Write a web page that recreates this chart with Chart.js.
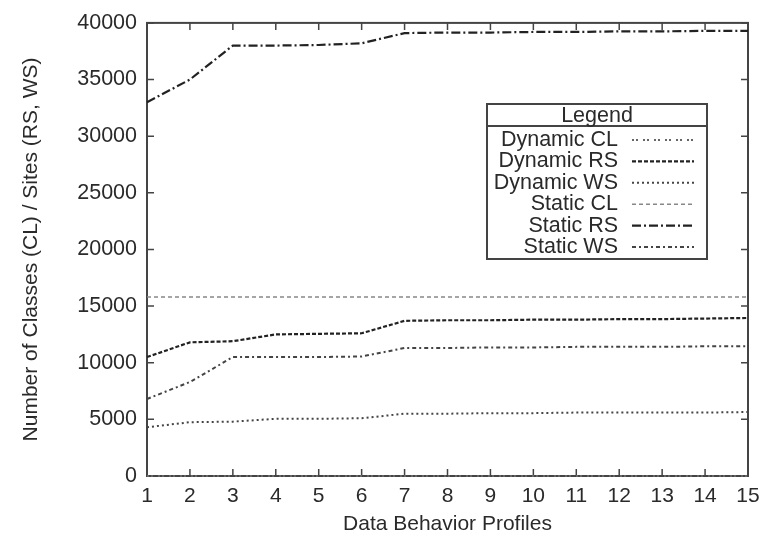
<!DOCTYPE html>
<html>
<head>
<meta charset="utf-8">
<script src="https://cdn.jsdelivr.net/npm/chart.js@4/dist/chart.umd.min.js"></script>
<style>
  html, body { margin: 0; padding: 0; background: #fff; }
  #wrap { width: 773px; height: 540px; }
</style>
</head>
<body>
<div id="wrap"><canvas id="chart" width="773" height="540"></canvas></div>
<script>
const profiles = [1, 2, 3, 4, 5, 6, 7, 8, 9, 10, 11, 12, 13, 14, 15];

const dynamicCL = [0, 0, 0, 0, 0, 0, 0, 0, 0, 0, 0, 0, 0, 0, 0];
const dynamicRS = [10500, 11800, 11900, 12500, 12550, 12600, 13700, 13750, 13750, 13800, 13800, 13850, 13850, 13900, 13950];
const dynamicWS = [4300, 4750, 4800, 5050, 5050, 5100, 5500, 5500, 5550, 5550, 5600, 5600, 5600, 5600, 5650];
const staticCL = [15800, 15800, 15800, 15800, 15800, 15800, 15800, 15800, 15800, 15800, 15800, 15800, 15800, 15800, 15800];
const staticRS = [33000, 35000, 38000, 38000, 38050, 38200, 39100, 39150, 39150, 39200, 39200, 39250, 39250, 39300, 39300];
const staticWS = [6800, 8300, 10500, 10500, 10500, 10550, 11300, 11300, 11350, 11350, 11400, 11400, 11400, 11450, 11450];

const seriesNames = ['Dynamic CL', 'Dynamic RS', 'Dynamic WS', 'Static CL', 'Static RS', 'Static WS'];
const yTicks = [0, 5000, 10000, 15000, 20000, 25000, 30000, 35000, 40000];

const FONT = '"Liberation Sans", Arial, Helvetica, sans-serif';
const TEXT = '#2a2a2a';

function line(label, values, color, dash, width) {
  return {
    label,
    data: profiles.map((p, i) => ({ x: p, y: values[i] })),
    borderColor: color,
    borderDash: dash,
    borderWidth: width,
    pointRadius: 0,
    tension: 0,
    fill: false,
    clip: false
  };
}

// gnuplot-like frame with inward ticks on all four sides
const framePlugin = {
  id: 'frame',
  beforeDatasetsDraw(chart) {
    const { ctx, chartArea: a, scales } = chart;
    ctx.save();
    ctx.strokeStyle = '#444';
    ctx.lineWidth = 2;
    ctx.setLineDash([]);
    ctx.strokeRect(a.left, a.top, a.right - a.left, a.bottom - a.top);
    ctx.lineWidth = 1.5;
    ctx.beginPath();
    profiles.forEach(p => {
      const x = scales.x.getPixelForValue(p);
      ctx.moveTo(x, a.bottom); ctx.lineTo(x, a.bottom - 7);
      ctx.moveTo(x, a.top); ctx.lineTo(x, a.top + 7);
    });
    yTicks.forEach(v => {
      const y = scales.y.getPixelForValue(v);
      ctx.moveTo(a.left, y); ctx.lineTo(a.left + 7, y);
      ctx.moveTo(a.right, y); ctx.lineTo(a.right - 7, y);
    });
    ctx.stroke();
    ctx.restore();
  }
};

// boxed legend with a "Legend" header, text right-aligned before the line sample
const boxLegend = {
  id: 'boxLegend',
  afterDraw(chart) {
    const { ctx } = chart;
    const left = 487, right = 707, top = 104, bottom = 259, headerBottom = 126;
    ctx.save();
    ctx.setLineDash([]);
    ctx.fillStyle = '#fff';
    ctx.fillRect(left, top, right - left, bottom - top);
    ctx.strokeStyle = '#444';
    ctx.lineWidth = 2;
    ctx.strokeRect(left, top, right - left, bottom - top);
    ctx.beginPath();
    ctx.moveTo(left, headerBottom);
    ctx.lineTo(right, headerBottom);
    ctx.stroke();

    ctx.font = '21.5px ' + FONT;
    ctx.fillStyle = TEXT;
    ctx.textBaseline = 'middle';
    ctx.textAlign = 'center';
    ctx.fillText('Legend', (left + right) / 2, 116);

    ctx.textAlign = 'right';
    chart.data.datasets.forEach((ds, i) => {
      const y = 140 + i * 21.4;
      ctx.fillStyle = TEXT;
      ctx.fillText(ds.label, 618, y);
      ctx.strokeStyle = ds.borderColor;
      ctx.lineWidth = ds.borderWidth;
      ctx.setLineDash(ds.borderDash);
      ctx.beginPath();
      ctx.moveTo(632, y);
      ctx.lineTo(694, y);
      ctx.stroke();
    });
    ctx.restore();
  }
};

new Chart(document.getElementById('chart'), {
  type: 'line',
  data: {
    datasets: [
      line(seriesNames[0], dynamicCL, '#666', [2, 2, 2, 5], 2),
      line(seriesNames[1], dynamicRS, '#222', [4, 2], 2.2),
      line(seriesNames[2], dynamicWS, '#444', [2, 3], 2),
      line(seriesNames[3], staticCL, '#888', [4, 3], 1.5),
      line(seriesNames[4], staticRS, '#222', [9, 3, 2, 3], 2.2),
      line(seriesNames[5], staticWS, '#444', [4, 3, 2, 3], 2)
    ]
  },
  options: {
    responsive: false,
    animation: false,
    layout: { padding: { top: 19, right: 25, left: 0, bottom: 0 } },
    plugins: { legend: { display: false }, tooltip: { enabled: false } },
    scales: {
      x: {
        type: 'linear',
        min: 1,
        max: 15,
        afterFit: s => { s.height = 64; },
        afterBuildTicks: s => { s.ticks = profiles.map(v => ({ value: v })); },
        grid: { display: false, drawTicks: false },
        border: { display: false },
        ticks: { padding: 8, color: TEXT, font: { family: FONT, size: 21 }, callback: v => String(v) },
        title: {
          display: true,
          text: 'Data Behavior Profiles',
          color: TEXT,
          font: { family: FONT, size: 21 },
          padding: { top: 0, bottom: 3 }
        }
      },
      y: {
        min: 0,
        max: 40000,
        afterFit: s => { s.width = 147; },
        afterBuildTicks: s => { s.ticks = yTicks.map(v => ({ value: v })); },
        grid: { display: false, drawTicks: false },
        border: { display: false },
        ticks: { padding: 10, color: TEXT, font: { family: FONT, size: 21.5 }, callback: v => String(v) },
        title: {
          display: true,
          text: 'Number of Classes (CL) / Sites (RS, WS)',
          color: TEXT,
          font: { family: FONT, size: 21 },
          padding: { top: 19, bottom: 0 }
        }
      }
    }
  },
  plugins: [framePlugin, boxLegend]
});
</script>
</body>
</html>
